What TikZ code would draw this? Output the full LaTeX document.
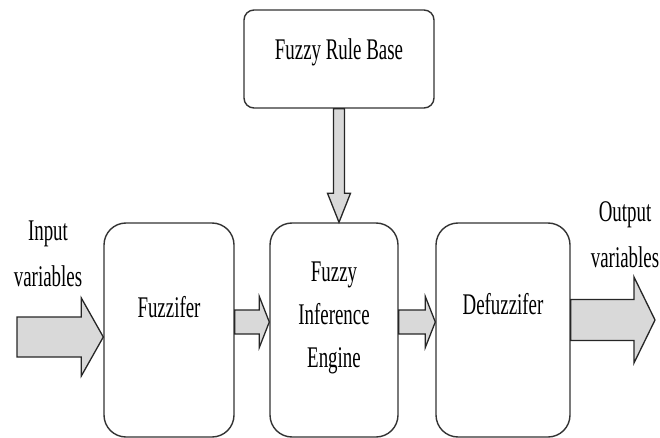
\documentclass[tikz,border=0pt]{standalone}
\usepackage{fontspec}
\usetikzlibrary{calc}
\newfontfamily\diagfont{Liberation Serif}[FakeStretch=0.63]
% wide block arrows: tail, tip, shaft half width, head half width, head length
\newcommand{\fatharrow}[5]{%
    \draw[fat] let \p1=(#1), \p2=(#2) in
        (\x1,\y1+#3) -- (\x2-#5,\y1+#3) -- (\x2-#5,\y1+#4) -- (\x2,\y2)
        -- (\x2-#5,\y1-#4) -- (\x2-#5,\y1-#3) -- (\x1,\y1-#3) -- cycle;}
\newcommand{\fatvarrow}[5]{%
    \draw[fat] let \p1=(#1), \p2=(#2) in
        (\x1-#3,\y1) -- (\x1-#3,\y2+#5) -- (\x1-#4,\y2+#5) -- (\x1,\y2)
        -- (\x1+#4,\y2+#5) -- (\x1+#3,\y2+#5) -- (\x1+#3,\y1) -- cycle;}
\begin{document}
\begin{tikzpicture}
    [x=1pt, y=-1pt,
     block/.style={draw=black!80, line width=1.4pt, rounded corners=22pt,
        minimum width=130pt, minimum height=214pt, inner sep=0pt,
        font=\diagfont\fontsize{30}{43}\selectfont, text=black, align=center},
     lbl/.style={font=\diagfont\fontsize{30}{46}\selectfont, text=black,
        align=center, inner sep=0pt},
     fat/.style={draw=black!85, line width=1.3pt, fill=black!15, line join=miter}]
    \useasboundingbox (0,0) rectangle (660,438);
    \node[block, minimum width=190pt, minimum height=98pt, rounded corners=10pt,
        text height=22pt, text depth=20pt](rule) at (339,59) {Fuzzy Rule Base};
    \node[block, text height=22pt, text depth=48pt](fuzz) at (169,330) {Fuzzifer};
    \node[block, minimum width=128pt, text depth=30pt](infer) at (334,330) {Fuzzy\\Inference\\Engine};
    \node[block, minimum width=134pt, text height=22pt, text depth=54pt](defuzz) at (503,330) {Defuzzifer};
    \node[lbl, anchor=south](invar) at (48,287) {Input\\variables};
    \node[lbl, anchor=south](outvar) at (625,268) {Output\\variables};
    \coordinate (inlvl) at (17,337);
    \coordinate (outlvl) at (655,320);
    \coordinate (midlvl) at (0,322);
    \fatharrow{inlvl}{fuzz.west |- inlvl}{20pt}{39pt}{22pt}
    \fatharrow{fuzz.east |- midlvl}{infer.west |- midlvl}{12pt}{25.5pt}{10pt}
    \fatharrow{infer.east |- midlvl}{defuzz.west |- midlvl}{12pt}{25.5pt}{10pt}
    \fatharrow{defuzz.east |- outlvl}{outlvl}{20.5pt}{43pt}{21pt}
    \fatvarrow{rule.south}{infer.north -| rule.south}{5.5pt}{11.5pt}{29pt}
\end{tikzpicture}
\end{document}
